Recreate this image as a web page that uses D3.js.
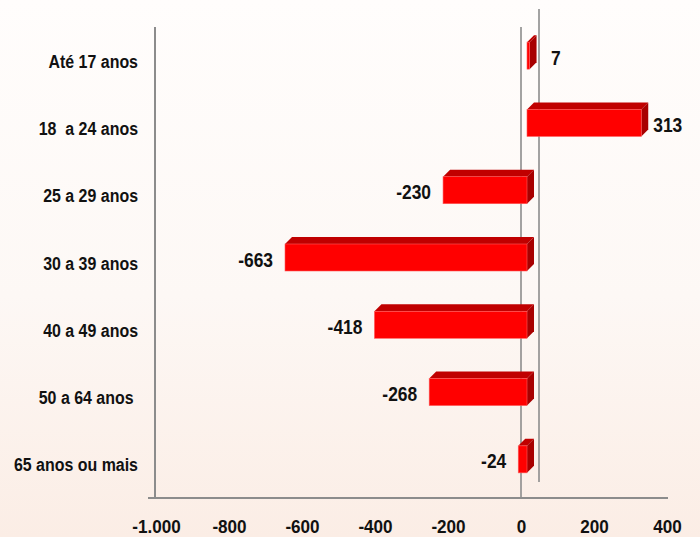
<!DOCTYPE html>
<html>
<head>
<meta charset="utf-8">
<script src="https://cdn.jsdelivr.net/npm/d3@7"></script>
<style>
  html, body { margin: 0; padding: 0; }
  svg text { font-family: "Liberation Sans", Arial, sans-serif; font-weight: bold; fill: #111; white-space: pre; }
</style>
</head>
<body>
<svg id="chart" width="700" height="537"></svg>
<script>
const categories = ["Até 17 anos", "18  a 24 anos", "25 a 29 anos", "30 a 39 anos", "40 a 49 anos", "50 a 64 anos ", "65 anos ou mais"];
const values = [7, 313, -230, -663, -418, -268, -24];
const xTicks = [-1000, -800, -600, -400, -200, 0, 200, 400];

const W = 700, H = 537;
const plot = { left: 156, right: 667, top: 27, bottom: 498 };
const depth = 7;      // 3D bar depth
const barShift = 6;   // bars front plane sits a bit right of the axis zero
const wall = 18;      // back wall offset
const squeeze = 0.84; // the original font is narrow, squash text horizontally

const loc = d3.formatLocale({ decimal: ",", thousands: ".", grouping: [3], currency: ["", ""], minus: "-" });
const fmt = loc.format(",");

const svg = d3.select("#chart");

// background
const defs = svg.append("defs");
const grad = defs.append("linearGradient").attr("id", "bg").attr("x1", 0).attr("y1", 0).attr("x2", 0).attr("y2", 1);
grad.append("stop").attr("offset", "0%").attr("stop-color", "#fffdfc");
grad.append("stop").attr("offset", "55%").attr("stop-color", "#fdf8f5");
grad.append("stop").attr("offset", "100%").attr("stop-color", "#fbede5");
svg.append("rect").attr("width", W).attr("height", H).attr("fill", "url(#bg)");

const x = d3.scaleLinear().domain([-1000, 400]).range([plot.left, plot.right]);
const y = d3.scaleBand().domain(categories).range([plot.top, plot.bottom]);

// back wall zero line
svg.append("line")
    .attr("x1", x(0) + wall).attr("x2", x(0) + wall)
    .attr("y1", plot.top - wall).attr("y2", plot.bottom - 16)
    .attr("stroke", "#8c8c8c").attr("stroke-width", 1.6);

// front zero line
svg.append("line")
    .attr("x1", x(0)).attr("x2", x(0))
    .attr("y1", plot.top).attr("y2", plot.bottom)
    .attr("stroke", "#8c8c8c").attr("stroke-width", 1.6);

// bars
const barH = 27;
const bars = svg.append("g").selectAll("g.bar")
    .data(categories.map((c, i) => ({ c, v: values[i] })))
    .enter().append("g").attr("class", "bar");

bars.each(function (d) {
    const g = d3.select(this);
    const x0 = x(Math.min(0, d.v)) + barShift;
    const x1 = x(Math.max(0, d.v)) + barShift;
    const yc = y(d.c) + y.bandwidth() / 2 - 5;
    const yt = yc - barH / 2, yb = yc + barH / 2;

    g.append("polygon")
        .attr("points", [[x0, yt], [x0 + depth, yt - depth], [x1 + depth, yt - depth], [x1, yt]].join(" "))
        .attr("fill", "#c00000");
    g.append("polygon")
        .attr("points", [[x1, yt], [x1 + depth, yt - depth], [x1 + depth, yb - depth], [x1, yb]].join(" "))
        .attr("fill", "#a80000");
    g.append("rect")
        .attr("x", x0).attr("y", yt)
        .attr("width", Math.max(0.5, x1 - x0)).attr("height", barH)
        .attr("fill", "#ff0000").attr("stroke", "#ff5a5a").attr("stroke-width", 0.6);

    const lx = d.v >= 0 ? Math.max(x(d.v) + wall, x(0) + 30) : x0 - 12;
    g.append("text")
        .attr("transform", `translate(${lx},${yc + 2}) scale(0.87,1)`)
        .attr("dy", "0.35em")
        .attr("text-anchor", d.v >= 0 ? "start" : "end")
        .style("font-size", "20px")
        .text(fmt(d.v));
});

// left axis
const yAxis = svg.append("g")
    .attr("transform", `translate(${plot.left - 1},1)`)
    .call(d3.axisLeft(y).tickSize(0));
yAxis.select(".domain").attr("stroke", "#8c8c8c").attr("stroke-width", 2)
    .attr("d", `M0,${plot.top - 1}V${plot.bottom - 1}`);
yAxis.selectAll(".tick text")
    .attr("x", -17 / squeeze)
    .attr("transform", `scale(${squeeze},1)`)
    .style("font-size", "19px").attr("fill", "#111");

// bottom axis
const xAxis = svg.append("g")
    .attr("transform", `translate(0,${plot.bottom})`)
    .call(d3.axisBottom(x).tickValues(xTicks).tickFormat(fmt).tickSize(0).tickPadding(22));
xAxis.select(".domain").attr("stroke", "#8c8c8c").attr("stroke-width", 2)
    .attr("d", `M${plot.left - 8},0H${plot.right + 1}`);
xAxis.selectAll(".tick text")
    .attr("transform", "scale(0.9,1)")
    .style("font-size", "19px").attr("fill", "#111");
</script>
</body>
</html>
